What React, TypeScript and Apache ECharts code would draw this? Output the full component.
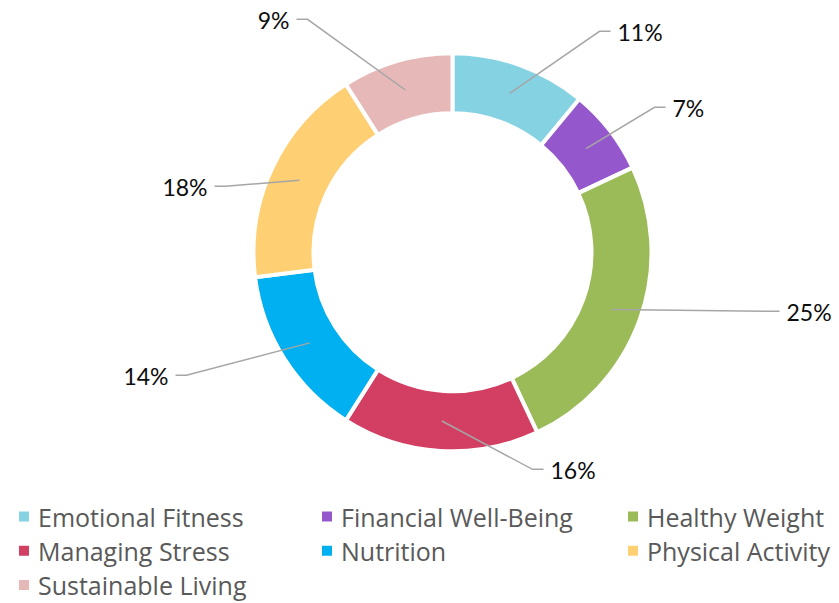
import React, { useEffect, useRef } from 'react';
import * as echarts from 'echarts';

const categories = [
  'Emotional Fitness',
  'Financial Well-Being',
  'Healthy Weight',
  'Managing Stress',
  'Nutrition',
  'Physical Activity',
  'Sustainable Living',
];
const values = [11, 7, 25, 16, 14, 18, 9];
const colors = ['#85D2E3', '#9558CC', '#9BBB59', '#D33F63', '#00B0F0', '#FED073', '#E6B8B8'];

// legend columns (indices into categories)
const legendColumns = [[0, 3, 6], [1, 4], [2, 5]];

// layout constants
const CX = 452.5;
const CY = 252.3;
const MID_R = 169;
// leader-line end points relative to the pie center
const labelAnchors = [
  [158, -221],
  [213, -145],
  [327, 59],
  [91, 217],
  [-277, 123],
  [-238, -66],
  [-156, -233],
];

export default function App() {
  const ref = useRef<HTMLDivElement>(null);
  useEffect(() => {
    document.body.style.margin = '0';
    const chart = echarts.init(ref.current!, null, { renderer: 'svg' });
    const total = values.reduce((a, b) => a + b, 0);
    const midAngles: number[] = [];
    let acc = 0;
    values.forEach((v) => {
      midAngles.push(((acc + v / 2) / total) * Math.PI * 2);
      acc += v;
    });
    const data = categories.map((name, i) => ({ name, value: values[i], itemStyle: { color: colors[i] } }));
    const legendLefts = [17, 320, 626];
    chart.setOption({
      animation: false,
      backgroundColor: '#ffffff',
      legend: legendColumns.map((col, ci) => ({
        orient: 'vertical',
        left: legendLefts[ci],
        top: 504,
        padding: 0,
        itemGap: 9.3,
        itemWidth: 12,
        itemHeight: 12,
        icon: 'rect',
        selectedMode: false,
        data: col.map((i) => ({ name: categories[i], itemStyle: { color: colors[i] } })),
        textStyle: {
          fontFamily: 'Open Sans',
          fontSize: 25,
          color: '#595959',
          lineHeight: 25,
          padding: [0, 0, 0, 3],
        },
      })),
      series: [
        {
          type: 'pie',
          center: [CX, CY],
          radius: [139, 199],
          startAngle: 90,
          clockwise: true,
          silent: true,
          avoidLabelOverlap: false,
          itemStyle: { borderColor: '#ffffff', borderWidth: 4 },
          label: { show: false },
          labelLine: { show: false },
          emphasis: { disabled: true },
          data,
        },
        {
          type: 'pie',
          z: 3,
          center: [CX, CY],
          radius: [0, MID_R],
          startAngle: 90,
          clockwise: true,
          silent: true,
          avoidLabelOverlap: false,
          itemStyle: { color: 'rgba(0,0,0,0)', borderWidth: 0 },
          emphasis: { disabled: true },
          label: {
            show: true,
            position: 'outside',
            formatter: '{c}%',
            fontFamily: 'Lato',
            fontSize: 23,
            color: '#0d0d0d',
          },
          labelLine: {
            show: true,
            length: 10,
            length2: 10,
            lineStyle: { color: '#A6A6A6', width: 1.5 },
          },
          labelLayout: (params: any) => {
            const i = params.dataIndex;
            const a = midAngles[i];
            const p0 = [CX + MID_R * Math.sin(a), CY - MID_R * Math.cos(a)];
            const ax = CX + labelAnchors[i][0];
            const ay = CY + labelAnchors[i][1];
            const right = labelAnchors[i][0] >= 0;
            const elbow = [right ? ax - 11 : ax + 11, ay];
            return {
              x: right ? ax + 7 : ax - 7,
              y: ay + 1,
              align: right ? 'left' : 'right',
              verticalAlign: 'middle',
              labelLinePoints: [p0, elbow, [ax, ay]],
            };
          },
          data: categories.map((name, i) => ({ name, value: values[i] })),
        },
      ],
    });
    return () => chart.dispose();
  }, []);
  return <div ref={ref} style={{ width: 839, height: 603 }} />;
}
